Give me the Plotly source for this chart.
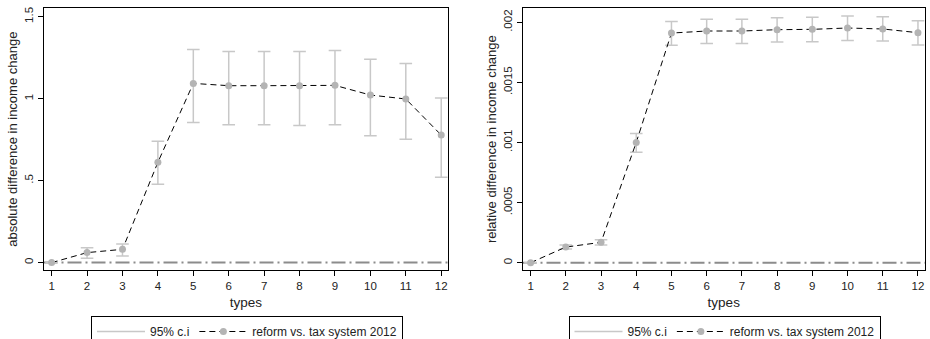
import plotly.graph_objects as go
from plotly.subplots import make_subplots

types = list(range(1, 13))

# left panel: absolute difference in income change
abs_est = [0.0, 0.061, 0.081, 0.612, 1.093, 1.079, 1.079, 1.079, 1.081, 1.022, 0.998, 0.778]
abs_lo = [0.0, 0.026, 0.041, 0.478, 0.854, 0.841, 0.841, 0.837, 0.841, 0.774, 0.752, 0.520]
abs_hi = [0.0, 0.091, 0.114, 0.740, 1.300, 1.287, 1.287, 1.287, 1.293, 1.240, 1.215, 1.004]

# right panel: relative difference in income change
rel_est = [0.0, 0.000130, 0.000169, 0.001001, 0.001911, 0.001928, 0.001928, 0.001939, 0.001942, 0.001953, 0.001945, 0.001914]
rel_lo = [0.0, 0.000114, 0.000147, 0.000918, 0.001809, 0.001825, 0.001825, 0.001836, 0.001839, 0.001850, 0.001845, 0.001811]
rel_hi = [0.0, 0.000147, 0.000191, 0.001074, 0.002008, 0.002025, 0.002025, 0.002039, 0.002042, 0.002053, 0.002047, 0.002014]

abs_ticks = [0, 0.5, 1, 1.5]
abs_ticktext = ["0", ".5", "1", "1.5"]
rel_ticks = [0, 0.0005, 0.001, 0.0015, 0.002]
rel_ticktext = ["0", ".0005", ".001", ".0015", ".002"]

ci_name = "95% c.i"
series_name = "reform vs. tax system 2012"

FONT = "Liberation Sans, Arial, Helvetica, sans-serif"
CI_COLOR = "#c8c8c8"
MARKER_COLOR = "#b4b4b4"
ZERO_COLOR = "#8c8c8c"

fig = make_subplots(rows=1, cols=2, horizontal_spacing=0.08)


def add_panel(col, est, lo, hi, legend_id):
    # vertical CI segments
    xs, ys = [], []
    for t, l, h in zip(types, lo, hi):
        xs += [t, t, None]
        ys += [l, h, None]
    fig.add_trace(go.Scatter(x=xs, y=ys, mode="lines", name=ci_name,
                             line=dict(color=CI_COLOR, width=1.5),
                             legend=legend_id, hoverinfo="skip"), row=1, col=col)
    # caps
    fig.add_trace(go.Scatter(x=types + types, y=lo + hi, mode="markers",
                             marker=dict(symbol="line-ew", size=9,
                                         line=dict(color=CI_COLOR, width=1.5)),
                             showlegend=False, hoverinfo="skip"), row=1, col=col)
    # zero line
    fig.add_hline(y=0, line=dict(color=ZERO_COLOR, width=2, dash="14px,4px,2px,4px"),
                  row=1, col=col, layer="below")
    # estimates
    fig.add_trace(go.Scatter(x=types, y=est, mode="lines+markers", name=series_name,
                             line=dict(color="black", width=1, dash="6px,4px"),
                             marker=dict(color=MARKER_COLOR, size=7),
                             legend=legend_id), row=1, col=col)


add_panel(1, abs_est, abs_lo, abs_hi, "legend")
add_panel(2, rel_est, rel_lo, rel_hi, "legend2")

W, H = 930, 339
left_dom = [43.5 / W, 448.3 / W]
right_dom = [522.5 / W, 925 / W]
y_dom = [(H - 270) / H, (H - 8.3) / H]

axis_common = dict(showline=True, linecolor="black", linewidth=1, mirror=True,
                   ticks="outside", ticklen=5, tickcolor="black", tickwidth=1,
                   showgrid=False, zeroline=False, automargin=False,
                   tickfont=dict(size=11.5, color="#222"))

fig.update_xaxes(**axis_common, tickvals=types, range=[0.77, 12.2],
                 title=dict(text="types", font=dict(size=13.5, color="#222"), standoff=6))
fig.update_xaxes(domain=left_dom, row=1, col=1)
fig.update_xaxes(domain=right_dom, row=1, col=2)

fig.update_yaxes(**axis_common, tickangle=-90, domain=y_dom)
fig.update_yaxes(row=1, col=1, range=[-0.045, 1.551], tickvals=abs_ticks, ticktext=abs_ticktext,
                 title=dict(text="absolute difference in income change",
                            font=dict(size=13, color="#222"), standoff=2))
fig.update_yaxes(row=1, col=2, range=[-0.000061, 0.002117], tickvals=rel_ticks, ticktext=rel_ticktext,
                 title=dict(text="relative difference in income change",
                            font=dict(size=13, color="#222"), standoff=2))

legend_common = dict(orientation="h", yanchor="top", xanchor="center",
                     xref="container", yref="container", y=(H - 316) / H,
                     bordercolor="black", borderwidth=1, bgcolor="white",
                     font=dict(size=12, color="#222", family=FONT),
                     itemwidth=48, tracegroupgap=0)

fig.update_layout(
    width=W, height=H,
    margin=dict(l=0, r=0, t=0, b=0, autoexpand=False),
    plot_bgcolor="white", paper_bgcolor="white",
    font=dict(family=FONT, color="#222"),
    legend=dict(**legend_common, x=(82 + 412) / 2 / W),
    legend2=dict(**legend_common, x=(560 + 889) / 2 / W),
)

fig.write_html("out.html", config={"displayModeBar": False},
               post_script="document.body.style.margin='0';document.body.style.overflow='hidden';")
